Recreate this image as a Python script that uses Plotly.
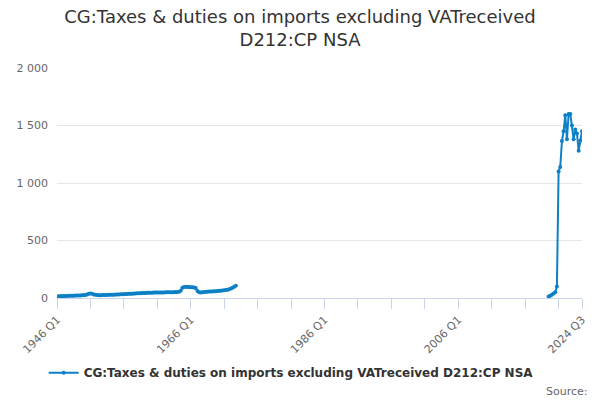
import plotly.graph_objects as go

# Quarter categories 1946 Q1 .. 2024 Q3
quarters = [f"{y} Q{q}" for y in range(1946, 2025) for q in range(1, 5)]
quarters = quarters[:quarters.index("2024 Q3") + 1]

# 1946 Q1 - 1972 Q4 (quarterly, £m)
early_values = [
    14, 15, 16, 17,
    17, 18, 18, 19,
    19, 20, 20, 21,
    21, 22, 22, 23,
    24, 26, 30, 36,
    40, 36, 31, 28,
    26, 25, 25, 26,
    26, 27, 27, 28,
    28, 29, 29, 30,
    30, 31, 32, 32,
    33, 34, 35, 36,
    37, 38, 39, 40,
    41, 42, 42, 43,
    44, 44, 45, 45,
    46, 46, 47, 47,
    47, 48, 48, 48,
    48, 49, 49, 49,
    50, 50, 51, 52,
    52, 54, 62, 90,
    96, 97, 96, 95,
    94, 93, 92, 88,
    60, 50, 48, 50,
    52, 54, 55, 56,
    56, 57, 58, 59,
    60, 62, 64, 66,
    68, 70, 72, 76,
    82, 90, 98, 106,
]
early_start = "1946 Q1"

# 2019 Q3 - 2024 Q3
recent_values = [
    12, 20, 28, 40, 50, 100,
    1100, 1140, 1365, 1450,
    1590, 1380, 1600, 1600,
    1500, 1380, 1465, 1430,
    1280, 1370, 1450,
]
recent_start = "2019 Q3"

values = [None] * len(quarters)
s = quarters.index(early_start)
for i, v in enumerate(early_values):
    values[s + i] = v
s = quarters.index(recent_start)
for i, v in enumerate(recent_values):
    values[s + i] = v

series_name = "CG:Taxes & duties on imports excluding VATreceived D212:CP NSA"
title_text = "CG:Taxes & duties on imports excluding VATreceived<br>D212:CP NSA"

tick_idx = list(range(0, len(quarters), 20)) + [len(quarters) - 1]
tickvals = [quarters[i] for i in tick_idx]
ticktext = [quarters[i] if (i % 80 == 0 or i == len(quarters) - 1) else "" for i in tick_idx]

color = "#0d80c6"
font = "DejaVu Sans, Verdana, sans-serif"

fig = go.Figure()
fig.add_trace(go.Scatter(
    x=quarters, y=values, name=series_name, mode="lines+markers",
    line=dict(color=color, width=2),
    marker=dict(color=color, size=4),
    connectgaps=False, showlegend=True,
))

fig.update_layout(
    width=600, height=400,
    margin=dict(l=57, r=18, t=68, b=102),
    paper_bgcolor="white", plot_bgcolor="white",
    font=dict(family=font, color="#666666", size=11),
    separators=". ",
    title=dict(text=title_text, x=0.5, xanchor="center", y=0.943, yanchor="top",
               font=dict(family=font, size=18, color="#333333")),
    xaxis=dict(type="category", range=[0, len(quarters) - 1],
               tickmode="array", tickvals=tickvals, ticktext=ticktext,
               tickangle=-45, ticks="outside", ticklen=10, tickcolor="#ccd6eb",
               showline=True, linecolor="#ccd6eb", linewidth=1,
               showgrid=False, zeroline=False,
               tickfont=dict(size=11, color="#666666")),
    yaxis=dict(range=[0, 2000], tickvals=[0, 500, 1000, 1500, 2000], tickformat=",",
               showgrid=True, gridcolor="#e6e6e6", zeroline=False, showline=False,
               ticks="", ticklabelstandoff=8,
               tickfont=dict(size=11, color="#666666")),
    legend=dict(orientation="h", x=0.446, xanchor="center", y=-0.325, yanchor="middle",
                font=dict(family=font, size=12, color="#333333", weight="bold")),
    annotations=[dict(text="Source:", xref="paper", yref="paper", x=1.015, y=-0.405,
                      xanchor="right", yanchor="middle", showarrow=False,
                      font=dict(size=11, color="#666666"))],
)

fig.write_html("out.html", config={"displayModeBar": False},
               post_script="document.body.style.margin='0';")
